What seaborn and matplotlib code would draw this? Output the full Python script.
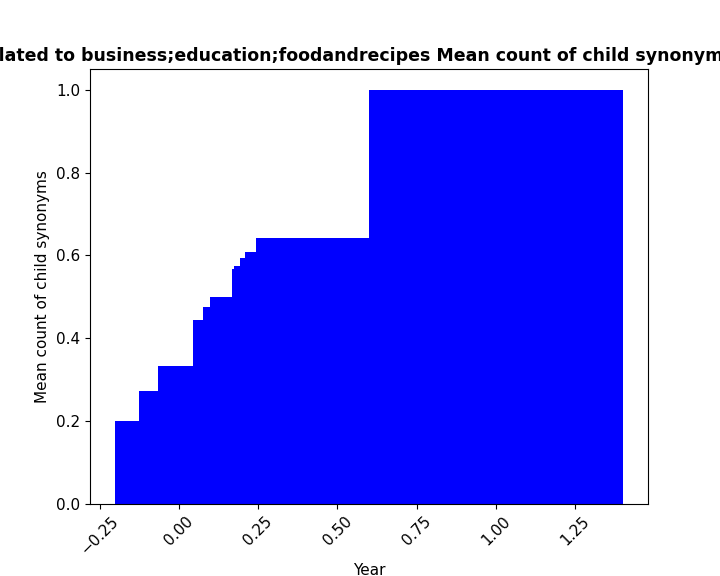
import matplotlib
matplotlib.use("Agg")
import matplotlib.pyplot as plt
from matplotlib.ticker import MultipleLocator
import seaborn as sns

# mean count per group (bars are placed at their own value)
x_vals = [0.2, 0.273, 0.333, 0.444, 0.476, 0.5, 0.567, 0.575, 0.593, 0.609, 0.643, 1.0]
means = [0.2, 0.273, 0.333, 0.444, 0.476, 0.5, 0.567, 0.575, 0.593, 0.609, 0.643, 1.0]

sns.set_style("ticks")
plt.rcParams["font.family"] = ["DejaVu Sans"]
plt.rcParams["text.color"] = "black"
plt.rcParams["axes.labelcolor"] = "black"
plt.rcParams["xtick.color"] = "black"
plt.rcParams["ytick.color"] = "black"
fig, ax = plt.subplots(figsize=(7.2, 5.76), dpi=100)
ax.bar(x_vals, means, width=0.8, color="blue", linewidth=0)
for s in ax.spines.values():
    s.set_color("black")
    s.set_linewidth(0.8)
ax.xaxis.set_major_locator(MultipleLocator(0.25))
ax.tick_params(axis="both", labelsize=11, length=3.5)
plt.xticks(rotation=45)
ax.set_xlabel("Year", fontsize=11)
ax.set_ylabel("Mean count of child synonyms", fontsize=11)
ax.set_title("Year related to business;education;foodandrecipes Mean count of child synonyms in year",
             fontsize=12.5, fontweight="bold")
plt.subplots_adjust(left=0.125, right=0.9, top=0.88, bottom=0.125)
plt.savefig("out.png", dpi=100)
